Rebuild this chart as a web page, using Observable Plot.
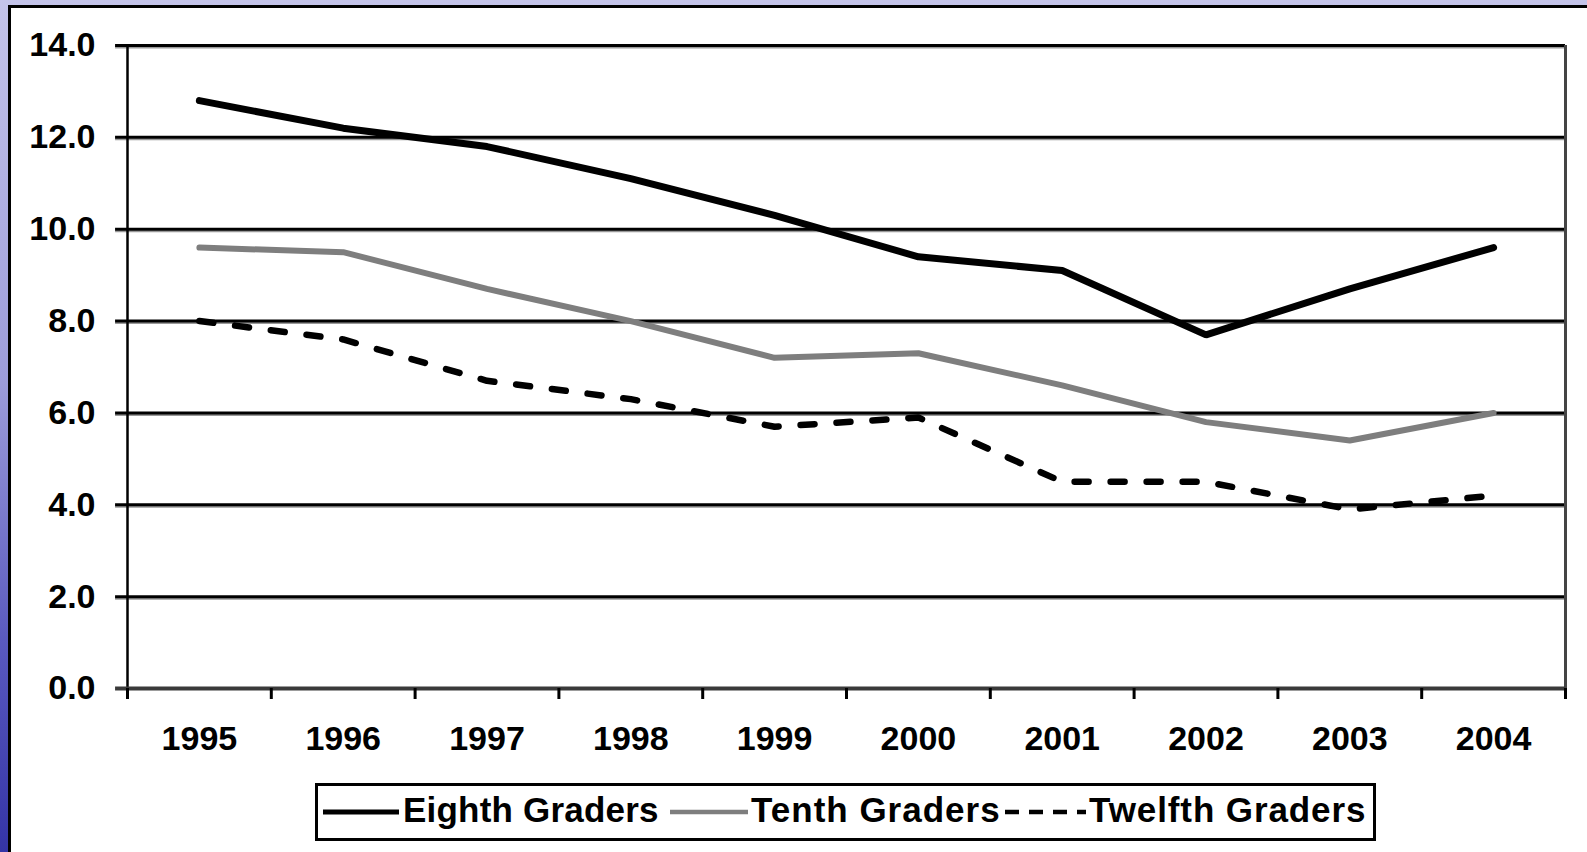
<!DOCTYPE html>
<html>
<head>
<meta charset="utf-8">
<script src="https://cdn.jsdelivr.net/npm/d3@7"></script>
<script src="https://cdn.jsdelivr.net/npm/@observablehq/plot@0.6"></script>
<style>
  html, body { margin: 0; padding: 0; }
  body {
    width: 1587px; height: 852px; overflow: hidden; position: relative;
    background: linear-gradient(to bottom, #c4c4ea 0%, #9c9cda 45%, #5a5ac0 75%, #3434a6 100%);
    font-family: "Liberation Sans", Arial, sans-serif;
  }
  #panel {
    position: absolute; left: 8px; top: 5px; right: -10px; bottom: -10px;
    background: #fff; border-left: 3px solid #000; border-top: 3px solid #000;
  }
  #chart { position: absolute; left: 0; top: 0; }
  #legend {
    position: absolute; left: 315px; top: 783px; width: 1061px; height: 58px;
    box-sizing: border-box; border: 3px solid #000; background: #fff;
  }
  #legend .sw { position: absolute; top: 0; }
  #legend .lab {
    position: absolute; top: 6px; font-size: 35px; line-height: 35px; font-weight: bold;
    color: #000; white-space: nowrap;
  }
</style>
</head>
<body>
<div id="panel"></div>
<div id="chart"></div>
<div id="legend"></div>
<script>
const years = [1995, 1996, 1997, 1998, 1999, 2000, 2001, 2002, 2003, 2004];
const eighth = [12.8, 12.2, 11.8, 11.1, 10.3, 9.4, 9.1, 7.7, 8.7, 9.6];
const tenth = [9.6, 9.5, 8.7, 8.0, 7.2, 7.3, 6.6, 5.8, 5.4, 6.0];
const twelfth = [8.0, 7.6, 6.7, 6.3, 5.7, 5.9, 4.5, 4.5, 3.9, 4.2];
const seriesNames = ["Eighth Graders", "Tenth Graders", "Twelfth Graders"];
const yTicks = [0, 2, 4, 6, 8, 10, 12, 14];
const gridTicks = [2, 4, 6, 8, 10, 12, 14];

const x0 = years[0] - 0.5, x1 = years[years.length - 1] + 0.5;
const boundaries = years.map(y => y - 0.5).concat([x1]);
const rows = (vals, name) => years.map((y, i) => ({year: y, value: vals[i], series: name}));
const e8 = rows(eighth, seriesNames[0]);
const e10 = rows(tenth, seriesNames[1]);
const e12 = rows(twelfth, seriesNames[2]);

const plot = Plot.plot({
  width: 1587,
  height: 770,
  marginLeft: 127,
  marginRight: 22,
  marginTop: 45,
  marginBottom: 82,
  style: {fontFamily: "Liberation Sans, Arial, sans-serif", fontSize: "34px", fontWeight: "bold", color: "#000", background: "transparent", overflow: "visible"},
  x: {domain: [x0, x1], label: null},
  y: {domain: [0, 14], label: null},
  marks: [
    Plot.ruleY(gridTicks, {stroke: "#999", strokeWidth: 2, dy: 2, x1: x0 - 0.083, x2: x1}),
    Plot.ruleY(gridTicks, {stroke: "#000", strokeWidth: 3, x1: x0 - 0.083, x2: x1}),
    Plot.ruleX([x0], {y1: 0, y2: 14, stroke: "#000", strokeWidth: 2.5}),
    Plot.ruleX([x1], {y1: 0, y2: 14, stroke: "#444", strokeWidth: 3}),
    Plot.line(e10, {x: "year", y: "value", stroke: "#7e7e7e", strokeWidth: 6, strokeLinejoin: "miter"}),
    Plot.line(e12, {x: "year", y: "value", stroke: "#000", strokeWidth: 6.5, strokeDasharray: "14,22"}),
    Plot.line(e8, {x: "year", y: "value", stroke: "#000", strokeWidth: 7, strokeLinejoin: "miter"}),
    Plot.ruleY([0], {stroke: "#3a3a3a", strokeWidth: 4, x1: x0 - 0.083, x2: x1}),
    Plot.axisX({ticks: boundaries, tickSize: 11, tickFormat: () => "", strokeWidth: 3, label: null}),
    Plot.axisX({ticks: years, tickSize: 0, tickPadding: 37, tickFormat: d => String(d), fontSize: 34, fontWeight: "bold", label: null}),
    Plot.axisY({ticks: yTicks, tickSize: 0, tickPadding: 32, tickFormat: d => d.toFixed(1), fontSize: 34, fontWeight: "bold", label: null})
  ]
});
document.getElementById("chart").appendChild(plot);

const legend = document.getElementById("legend");
const items = [
  {name: seriesNames[0], swX: 5, swW: 76, stroke: "#000", width: 5, dash: null, labX: 85, ls: 0.2},
  {name: seriesNames[1], swX: 352, swW: 78, stroke: "#7e7e7e", width: 4.5, dash: null, labX: 433, ls: 1},
  {name: seriesNames[2], swX: 687, swW: 81, stroke: "#000", width: 4.5, dash: "14,10", labX: 771, ls: 0.9}
];
items.forEach(it => {
  const ns = "http://www.w3.org/2000/svg";
  const s = document.createElementNS(ns, "svg");
  s.setAttribute("class", "sw");
  s.setAttribute("width", it.swW);
  s.setAttribute("height", 52);
  s.style.left = it.swX + "px";
  const l = document.createElementNS(ns, "line");
  l.setAttribute("x1", 0); l.setAttribute("x2", it.swW);
  l.setAttribute("y1", 26); l.setAttribute("y2", 26);
  l.setAttribute("stroke", it.stroke);
  l.setAttribute("stroke-width", it.width);
  if (it.dash) l.setAttribute("stroke-dasharray", it.dash);
  s.appendChild(l);
  legend.appendChild(s);
  const t = document.createElement("span");
  t.className = "lab";
  t.style.left = it.labX + "px";
  t.style.letterSpacing = it.ls + "px";
  t.textContent = it.name;
  legend.appendChild(t);
});
</script>
</body>
</html>
